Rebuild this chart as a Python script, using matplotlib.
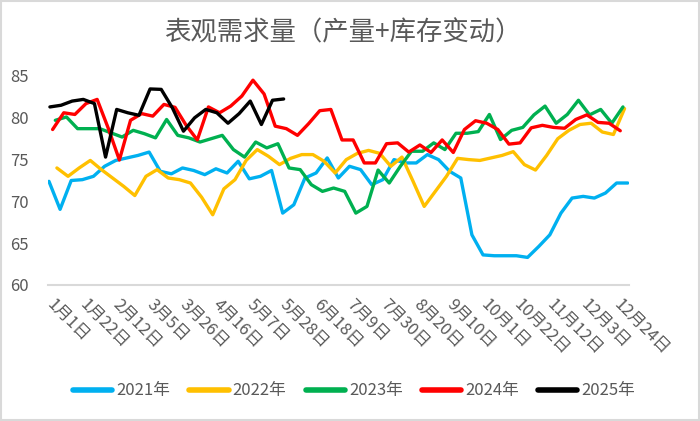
import matplotlib
matplotlib.use('Agg')
import matplotlib.pyplot as plt
from matplotlib.patches import Rectangle

plt.rcParams['font.family'] = ['Noto Sans CJK SC', 'DejaVu Sans']

# weekly data, one list per year
years = ['2021年', '2022年', '2023年', '2024年', '2025年']
colors = ['#00B0F0', '#FFC000', '#00B050', '#FF0000', '#000000']
first_day = [0, 5, 4, 2.3, 0.6]   # day of year of the first weekly point

y2021 = [72.4, 69.05, 72.5, 72.6, 73.0, 74.2, 74.9, 75.2, 75.5, 75.9,
         73.6, 73.3, 74.0, 73.7, 73.2, 73.9, 73.4, 74.8, 72.7, 73.0,
         73.7, 68.6, 69.6, 72.8, 73.4, 75.2, 72.8, 74.2, 73.8, 72.0,
         72.6, 75.0, 74.6, 74.6, 75.6, 75.0, 73.6, 72.8, 66.0, 63.6,
         63.5, 63.5, 63.5, 63.3, 64.6, 66.0, 68.6, 70.4, 70.6, 70.4,
         71.0, 72.2, 72.2]
y2022 = [74.0, 73.0, 74.0, 74.9, 73.8, 72.8, 71.8, 70.7, 73.0, 73.8,
         72.8, 72.6, 72.2, 70.5, 68.4, 71.5, 72.6, 74.9, 76.2, 75.4,
         74.4, 75.15, 75.6, 75.6, 74.8, 73.4, 75.0, 75.75, 76.1, 75.75,
         74.2, 75.3, 72.4, 69.4, 71.2, 73.0, 75.15, 75.0, 74.9, 75.2,
         75.5, 75.95, 74.4, 73.75, 75.5, 77.5, 78.5, 79.2, 79.35, 78.3,
         78.0, 81.1]
y2023 = [79.7, 80.1, 78.7, 78.7, 78.7, 78.2, 77.7, 78.5, 78.1, 77.6,
         79.8, 77.9, 77.6, 77.1, 77.5, 77.9, 76.2, 75.3, 77.1, 76.4,
         76.9, 74.0, 73.8, 72.0, 71.2, 71.6, 71.2, 68.6, 69.4, 73.75,
         72.2, 74.2, 76.0, 76.0, 77.0, 76.2, 78.15, 78.15, 78.35, 80.4,
         77.4, 78.5, 78.85, 80.35, 81.4, 79.35, 80.4, 82.1, 80.35, 81.0,
         79.35, 81.3]
y2024 = [78.6, 80.6, 80.4, 81.7, 82.2, 78.75, 74.95, 79.7, 80.5, 80.2,
         81.6, 81.25, 79.1, 77.35, 81.3, 80.6, 81.4, 82.6, 84.5, 82.85,
         79.0, 78.7, 77.9, 79.3, 80.85, 81.0, 77.35, 77.35, 74.6, 74.6,
         76.9, 77.0, 75.9, 76.75, 75.85, 77.35, 75.85, 78.6, 79.65, 79.35,
         78.6, 76.85, 77.0, 78.8, 79.1, 78.85, 78.75, 79.8, 80.35, 79.45,
         79.35, 78.45]
y2025 = [81.3, 81.5, 82.0, 82.2, 81.7, 75.3, 81.0, 80.6, 80.3, 83.45,
         83.4, 81.2, 78.4, 80.0, 81.0, 80.6, 79.35, 80.5, 82.0, 79.2,
         82.1, 82.25]
series = [y2021, y2022, y2023, y2024, y2025]

tick_days = list(range(0, 358, 21))
tick_labels = ['1月1日', '1月22日', '2月12日', '3月5日', '3月26日', '4月16日',
               '5月7日', '5月28日', '6月18日', '7月9日', '7月30日', '8月20日',
               '9月10日', '10月1日', '10月22日', '11月12日', '12月3日', '12月24日']

fig = plt.figure(figsize=(7, 4.21), dpi=100)
ax = fig.add_axes([48/700, 1 - 285/421, 581/700, 209/421])

for name, vals, c, d0 in zip(years, series, colors, first_day):
    xs = [d0 + 7 * i for i in range(len(vals))]
    ax.plot(xs, vals, color=c, lw=2.4, label=name,
            solid_joinstyle='round', solid_capstyle='round')

ax.set_xlim(-0.6, 364.8)
ax.set_ylim(60, 85)
ax.set_yticks([60, 65, 70, 75, 80, 85])
ax.set_xticks(tick_days)
ax.set_xticklabels(tick_labels, rotation=-45, ha='left', va='center',
                   rotation_mode='anchor')
ax.tick_params(axis='x', length=0, pad=12, labelsize=12, labelcolor='#595959')
ax.tick_params(axis='y', length=0, pad=14, labelsize=12, labelcolor='#595959')
for s in ['top', 'right', 'left']:
    ax.spines[s].set_visible(False)
ax.spines['bottom'].set_color('#D9D9D9')
ax.spines['bottom'].set_linewidth(1.5)

fig.text(0.49, 1 - 33/421, '表观需求量（产量+库存变动）', ha='center', va='center',
         fontsize=19, color='#595959')

leg = fig.legend(loc='center', bbox_to_anchor=(0.506, 1 - 391/421), ncol=5,
                 frameon=False, fontsize=12, handlelength=2.35,
                 handletextpad=0.25, columnspacing=1.15, labelcolor='#595959')
for line in leg.get_lines():
    line.set_linewidth(4)

fig.patches.append(Rectangle((0.0015, 0.0025), 0.997, 0.995, transform=fig.transFigure,
                             fill=False, ec='#D9D9D9', lw=1.5))

fig.savefig('out.png', dpi=100)
